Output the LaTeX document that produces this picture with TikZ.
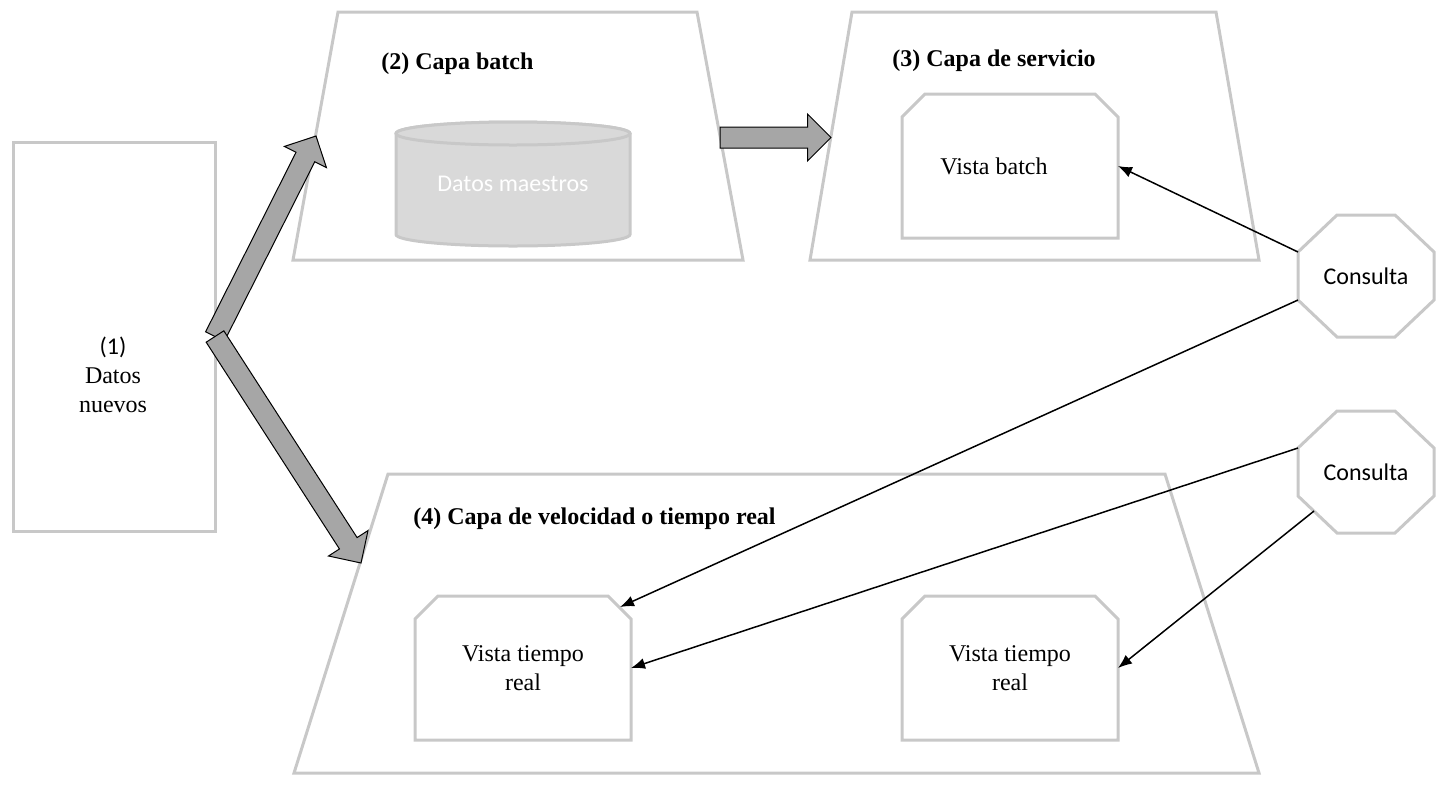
\documentclass[tikz,border=0pt]{standalone}
\usepackage{fontspec}
\setmainfont{Liberation Serif}
\newfontfamily\calibrifont{Carlito}
\usetikzlibrary{shapes.arrows,calc,arrows.meta}
\definecolor{boxgray}{RGB}{200,200,200}
\definecolor{arrgray}{RGB}{166,166,166}
\definecolor{cylfill}{RGB}{217,217,217}
\newcommand\octpath[1]{($(#1.north west)+(39,0)$) -- ($(#1.north east)+(-39,0)$) -- ($(#1.north east)+(0,37)$) -- ($(#1.south east)+(0,-37)$) -- ($(#1.south east)+(-39,0)$) -- ($(#1.south west)+(39,0)$) -- ($(#1.south west)+(0,-37)$) -- ($(#1.north west)+(0,37)$) -- cycle}
\newcommand\champath[1]{(#1.south west) -- ($(#1.north west)+(0,23)$) -- ($(#1.north west)+(23,0)$) -- ($(#1.north east)+(-23,0)$) -- ($(#1.north east)+(0,23)$) -- (#1.south east) -- cycle}
\begin{document}
\begin{tikzpicture}[x=0.5pt,y=-0.5pt,
  graybox/.style={draw=boxgray, line width=1.5pt},
  anchorbox/.style={inner sep=0pt, outer sep=0pt},
  txt/.style={font=\fontsize{12}{14.5}\selectfont, align=center, inner sep=0pt},
  sanstxt/.style={font=\calibrifont\fontsize{12}{14.5}\selectfont, inner sep=0pt},
  lbl/.style={font=\fontsize{12}{14.5}\selectfont\bfseries, anchor=west, inner sep=0pt},
  fatarrow/.style={single arrow, draw=black, line width=0.5pt, fill=arrgray,
    inner xsep=0pt, inner ysep=5pt, minimum width=23pt,
    single arrow head extend=6.5pt, single arrow tip angle=90, anchor=tail, outer sep=0pt},
  conn/.style={draw=black, line width=0.75pt, -{Latex[length=7pt,width=5.5pt]}}]
\useasboundingbox (0,0) rectangle (1443,788);

% (1) new data
\node[graybox, anchorbox, minimum width=101pt, minimum height=194.5pt] (n1) at (114,336.5) {};
\node[txt] (n1t) at (113,375) {{\calibrifont (1)}\\Datos\\nuevos};

% layers
\draw[graybox] (338,12) -- (697,12) -- (743,260) -- (293,260) -- cycle;
\draw[graybox] (852,12) -- (1216,12) -- (1259,260) -- (810,260) -- cycle;
\draw[graybox] (388,474) -- (1165,474) -- (1259,773) -- (294,773) -- cycle;
\coordinate (t2in) at (316,136);
\coordinate (t2out) at (720,137.5);
\coordinate (t3in) at (831,137.5);
\coordinate (t4in) at (361,563);

\node[lbl] (l2) at (381,64) {(2) Capa batch};
\node[lbl] (l3) at (892,61) {(3) Capa de servicio};
\node[lbl] (l4) at (413,519) {(4) Capa de velocidad o tiempo real};

% cylinder
\node[anchorbox, minimum width=117pt, minimum height=62pt] (cyl) at (513,184) {};
\filldraw[draw=boxgray, fill=cylfill, line width=1.5pt] (396,133.5) -- (396,234.5)
  arc[start angle=180, end angle=0, x radius=117, y radius=11.5] -- (630,133.5)
  arc[start angle=0, end angle=-180, x radius=117, y radius=11.5] -- cycle;
\filldraw[draw=boxgray, fill=cylfill, line width=1.5pt] (513,133.5) ellipse[x radius=117, y radius=11.5];
\node[sanstxt, text=white] (cylt) at (cyl.center) {Datos maestros};

% views
\node[anchorbox, minimum width=108pt, minimum height=72pt] (vb) at (1010,166) {};
\draw[graybox] \champath{vb};
\node[txt] (vbt) at (994,166) {Vista batch};

\node[anchorbox, minimum width=108pt, minimum height=72pt] (v1) at (523,668) {};
\draw[graybox] \champath{v1};
\node[txt] (v1t) at (v1.center) {Vista tiempo\\real};

\node[anchorbox, minimum width=108pt, minimum height=72pt] (v2) at (1010,668) {};
\draw[graybox] \champath{v2};
\node[txt] (v2t) at (v2.center) {Vista tiempo\\real};

% queries
\node[anchorbox, minimum width=68pt, minimum height=61pt] (c1) at (1366,276) {};
\draw[graybox] \octpath{c1};
\node[sanstxt] (c1t) at (c1.center) {Consulta};
\node[anchorbox, minimum width=68pt, minimum height=61pt] (c2) at (1366,472) {};
\draw[graybox] \octpath{c2};
\node[sanstxt] (c2t) at (c2.center) {Consulta};

% fat arrows
\path let \p1=($(t2in)-(n1.east)$), \n1={atan2(\y1,\x1)}, \n2={veclen(\x1,\y1)} in
  node[fatarrow, rotate=\n1, minimum height=\n2] (a12) at (n1.east) {};
\path let \p1=($(t4in)-(n1.east)$), \n1={atan2(\y1,\x1)}, \n2={veclen(\x1,\y1)} in
  node[fatarrow, rotate=\n1, minimum height=\n2] (a14) at (n1.east) {};
\path let \p1=($(t3in)-(t2out)$), \n1={atan2(\y1,\x1)}, \n2={veclen(\x1,\y1)} in
  node[fatarrow, rotate=\n1, minimum height=\n2] (a23) at (t2out) {};

% query connectors
\draw[conn] ($(c1.north west)+(0,37)$) -- (vb.east);
\draw[conn] ($(c1.south west)+(0,-37)$) -- ($(v1.north east)+(-11,11)$);
\draw[conn] ($(c2.north west)+(0,37)$) -- (v1.east);
\draw[conn] ($(c2.south west)+(16,-22)$) -- (v2.east);
\end{tikzpicture}
\end{document}
